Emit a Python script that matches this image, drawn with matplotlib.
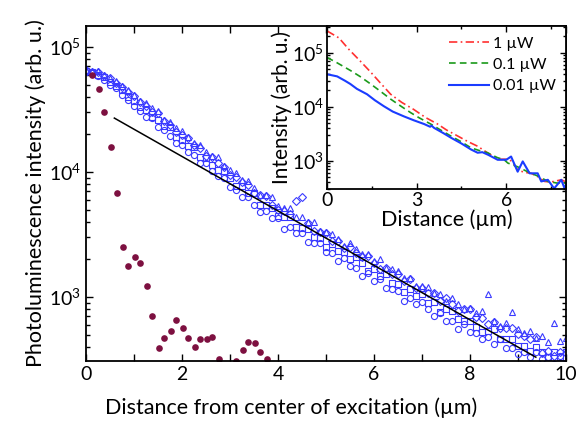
import numpy as np
import matplotlib
matplotlib.use("Agg")
import matplotlib.pyplot as plt
from matplotlib.ticker import LogLocator, MultipleLocator, FixedLocator, FixedFormatter, NullFormatter

plt.rcParams['font.family'] = ['Lato', 'DejaVu Sans']
plt.rcParams['mathtext.fontset'] = 'custom'
plt.rcParams['mathtext.rm'] = 'Lato'
plt.rcParams['mathtext.it'] = 'Lato'

# ---------------- main panel data ----------------
x_blue = [i * 0.125 for i in range(81)]
circles_log = [4.80, 4.79, 4.77, 4.74, 4.70, 4.67, 4.62, 4.58, 4.53, 4.49, 4.44, 4.43, 4.36, 4.34, 4.29, 4.23,
               4.22, 4.16, 4.14, 4.07, 4.07, 4.01, 3.97, 3.95, 3.88, 3.86, 3.80, 3.80, 3.74, 3.68, 3.69, 3.63,
               3.63, 3.54, 3.56, 3.51, 3.51, 3.44, 3.43, 3.43, 3.36, 3.35, 3.29, 3.31, 3.25, 3.23, 3.17, 3.19,
               3.13, 3.14, 3.07, 3.06, 3.05, 2.97, 2.99, 2.94, 2.96, 2.90, 2.85, 2.87, 2.81, 2.81, 2.74, 2.78,
               2.72, 2.71, 2.66, 2.68, 2.62, 2.66, 2.59, 2.59, 2.54, 2.56, 2.52, 2.56, 2.50, 2.52, 2.46, 2.53, 2.47]
squares_log = [4.81, 4.80, 4.78, 4.76, 4.72, 4.69, 4.66, 4.60, 4.57, 4.52, 4.50, 4.44, 4.42, 4.37, 4.36, 4.28,
               4.26, 4.21, 4.20, 4.12, 4.11, 4.06, 4.02, 4.01, 3.95, 3.89, 3.89, 3.83, 3.83, 3.74, 3.74, 3.71,
               3.65, 3.64, 3.64, 3.56, 3.55, 3.54, 3.48, 3.47, 3.40, 3.42, 3.37, 3.36, 3.30, 3.32, 3.27, 3.21,
               3.22, 3.17, 3.18, 3.11, 3.10, 3.04, 3.06, 3.01, 3.02, 2.95, 2.96, 2.88, 2.90, 2.89, 2.82, 2.81,
               2.81, 2.76, 2.72, 2.73, 2.74, 2.66, 2.66, 2.66, 2.61, 2.61, 2.57, 2.60, 2.56, 2.52, 2.56, 2.52, 2.56]
diamonds_log = [4.82, 4.80, 4.80, 4.77, 4.75, 4.71, 4.68, 4.64, 4.61, 4.56, 4.53, 4.48, 4.47, 4.41, 4.38, 4.32,
                4.30, 4.27, 4.22, 4.19, 4.13, 4.12, 4.07, 4.04, 3.98, 3.96, 3.92, 3.90, 3.83, 3.82, 3.81, 3.74,
                3.70, 3.69, 3.66, 3.77, 3.80, 3.59, 3.53, 3.52, 3.51, 3.45, 3.45, 3.39, 3.40, 3.35, 3.32, 3.33,
                3.27, 3.22, 3.23, 3.18, 3.18, 3.13, 3.14, 3.07, 3.07, 3.03, 3.03, 2.97, 2.99, 2.94, 2.89, 2.90,
                2.90, 2.84, 2.83, 2.78, 2.80, 2.75, 2.75, 2.75, 2.70, 2.69, 2.66, 2.68, 2.55, 2.57, 2.53, 2.56, 2.55]
triangles_log = [4.82, 4.81, 4.81, 4.78, 4.75, 4.73, 4.69, 4.66, 4.62, 4.57, 4.55, 4.51, 4.49, 4.42, 4.40, 4.35,
                 4.33, 4.28, 4.23, 4.22, 4.16, 4.13, 4.12, 4.05, 4.02, 3.99, 3.94, 3.93, 3.87, 3.82, 3.82, 3.80,
                 3.73, 3.71, 3.71, 3.64, 3.64, 3.60, 3.60, 3.53, 3.52, 3.50, 3.46, 3.41, 3.43, 3.38, 3.34, 3.34,
                 3.29, 3.30, 3.23, 3.22, 3.21, 3.15, 3.15, 3.09, 3.09, 3.08, 3.03, 3.02, 2.97, 2.99, 2.94, 2.90,
                 2.91, 2.87, 2.89, 3.02, 2.81, 2.77, 2.79, 2.88, 2.74, 2.71, 2.73, 2.67, 2.69, 2.64, 2.79, 2.65, 2.67]

x_dots = [0.13, 0.26, 0.38, 0.51, 0.64, 0.76, 0.88, 1.01, 1.13, 1.26, 1.38, 1.51, 1.63, 1.76, 1.88, 2.01,
          2.13, 2.26, 2.38, 2.51, 2.63, 2.76, 2.88, 3.01, 3.13, 3.26, 3.38, 3.51, 3.63, 3.76]
dots = [60000, 46000, 30000, 15800, 6800, 2500, 1780, 2080, 1860, 1220, 700, 390, 470, 530, 660, 570,
        470, 400, 460, 460, 480, 320, 250, 270, 310, 380, 440, 430, 360, 320]

fit_x = [0.59, 9.37]
fit_y = [27000, 330]

# ---------------- inset data ----------------
red_x = [0, 0.4, 0.73, 1.1, 1.46, 1.8, 2.13, 2.5, 2.9, 3.3, 3.7, 4.0, 4.37, 4.7, 5.04, 5.37, 5.7, 6.05,
         6.2, 6.38, 6.6, 6.83, 7.05, 7.28, 7.5, 7.84, 8.0]
red_log = [5.40, 5.27, 5.06, 4.85, 4.64, 4.43, 4.23, 4.08, 3.95, 3.80, 3.68, 3.57, 3.46, 3.36, 3.27, 3.15,
           3.03, 3.03, 2.99, 2.83, 2.79, 2.77, 2.71, 2.62, 2.61, 2.65, 2.61]
green_x = [0, 0.34, 0.78, 1.1, 1.46, 1.8, 2.13, 2.5, 2.8, 3.1, 3.47, 3.8, 4.14, 4.5, 4.82, 5.1, 5.37, 5.7,
           5.93, 6.05, 6.38, 6.6, 6.83, 7.1, 7.39, 7.7, 8.0]
green_log = [4.91, 4.81, 4.67, 4.56, 4.42, 4.28, 4.14, 4.00, 3.89, 3.79, 3.68, 3.57, 3.46, 3.35, 3.24, 3.19,
             3.15, 3.06, 3.02, 2.96, 2.89, 2.83, 2.77, 2.71, 2.62, 2.59, 2.59]
blue_x = [0, 0.34, 0.6, 0.78, 1.0, 1.34, 1.6, 1.9, 2.2, 2.58, 2.9, 3.25, 3.45, 3.5, 3.58, 3.9, 4.14, 4.5,
          4.82, 5.04, 5.2, 5.4, 5.71, 6.0, 6.16, 6.38, 6.55, 6.78, 7.05, 7.17, 7.39, 7.6, 7.84, 7.95, 8.0]
blue_log = [4.60, 4.56, 4.48, 4.42, 4.33, 4.23, 4.12, 4.01, 3.91, 3.82, 3.75, 3.68, 3.63, 3.65, 3.61, 3.51,
            3.43, 3.32, 3.21, 3.15, 3.16, 3.11, 3.02, 3.02, 3.08, 2.80, 2.99, 2.77, 2.77, 2.62, 2.65, 2.49,
            2.65, 2.49, 2.57]
legend_labels = ['1 \u00b5W', '0.1 \u00b5W', '0.01 \u00b5W']

# ---------------- figure ----------------
fig = plt.figure(figsize=(5.86, 4.23), dpi=100)
ax = fig.add_axes([0.1468, 0.1466, 0.966 - 0.1468, 0.9385 - 0.1466])

blue = '#3a3aff'
mk = dict(ls='none', mfc='none', mec=blue, ms=4.4, mew=0.8)
ax.plot(x_blue, np.power(10.0, circles_log), marker='o', **mk)
ax.plot(x_blue, np.power(10.0, squares_log), marker='s', **dict(mk, ms=4.0))
ax.plot(x_blue, np.power(10.0, diamonds_log), marker='D', **dict(mk, ms=3.8))
ax.plot(x_blue, np.power(10.0, triangles_log), marker='^', **dict(mk, ms=4.6))
ax.plot(x_dots, dots, ls='none', marker='o', color='#7d1040', ms=4.8, mew=0)
ax.plot(fit_x, fit_y, color='black', lw=1.1)

ax.set_yscale('log')
ax.set_xlim(0, 10)
ax.set_ylim(10 ** 2.488, 10 ** 5.168)
ax.xaxis.set_major_locator(MultipleLocator(2))
ax.xaxis.set_minor_locator(MultipleLocator(1))
ax.yaxis.set_major_locator(FixedLocator([1e3, 1e4, 1e5]))
ax.yaxis.set_major_formatter(FixedFormatter([r'$10^3$', r'$10^4$', r'$10^5$']))
ax.yaxis.set_minor_locator(LogLocator(base=10, subs=np.arange(2, 10), numticks=20))
ax.yaxis.set_minor_formatter(NullFormatter())
ax.tick_params(which='both', direction='in', top=True, right=True, width=1.0, labelsize=14)
ax.tick_params(which='major', length=5)
ax.tick_params(which='minor', length=3)
ax.tick_params(axis='x', which='minor', length=5)
for s in ax.spines.values():
    s.set_linewidth(1.3)
ax.set_xlabel('Distance from center of excitation (\u00b5m)', fontsize=15.5)
ax.xaxis.set_label_coords(0.428, -0.11)
ax.set_ylabel('Photoluminescence intensity (arb. u.)', fontsize=15.5, labelpad=2)

# inset
ins = fig.add_axes([0.558, 0.5525, 0.966 - 0.558, 0.9385 - 0.5525])
ins.set_facecolor('white')
ins.plot(red_x, np.power(10.0, red_log), color='#ff3030', ls=(0, (5, 2, 1, 2)), lw=1.2, label=legend_labels[0])
ins.plot(green_x, np.power(10.0, green_log), color='#1a9a1a', ls=(0, (4, 2.5)), lw=1.2, label=legend_labels[1])
ins.plot(blue_x, np.power(10.0, blue_log), color='#1a3cff', ls='-', lw=1.5, label=legend_labels[2])
ins.set_yscale('log')
ins.set_xlim(0, 8)
ins.set_ylim(10 ** 2.475, 10 ** 5.49)
ins.xaxis.set_major_locator(FixedLocator([0, 3, 6]))
ins.xaxis.set_minor_locator(FixedLocator([1.5, 4.5, 7.5]))
ins.yaxis.set_major_locator(FixedLocator([1e3, 1e4, 1e5]))
ins.yaxis.set_major_formatter(FixedFormatter([r'$10^3$', r'$10^4$', r'$10^5$']))
ins.yaxis.set_minor_locator(LogLocator(base=10, subs=np.arange(2, 10), numticks=20))
ins.yaxis.set_minor_formatter(NullFormatter())
ins.tick_params(which='both', direction='in', top=True, right=True, width=1.0, labelsize=14, pad=2)
ins.tick_params(which='major', length=4)
ins.tick_params(which='minor', length=2.5)
for s in ins.spines.values():
    s.set_linewidth(1.3)
ins.set_xlabel('Distance (\u00b5m)', fontsize=15.5, labelpad=0)
ins.set_ylabel('Intensity (arb. u.)', fontsize=15, labelpad=0)
ins.legend(loc='upper right', frameon=False, fontsize=11.5, handlelength=2.5, handletextpad=0.25,
           labelspacing=0.45, borderaxespad=0.25)

fig.savefig('out.png', dpi=100)
